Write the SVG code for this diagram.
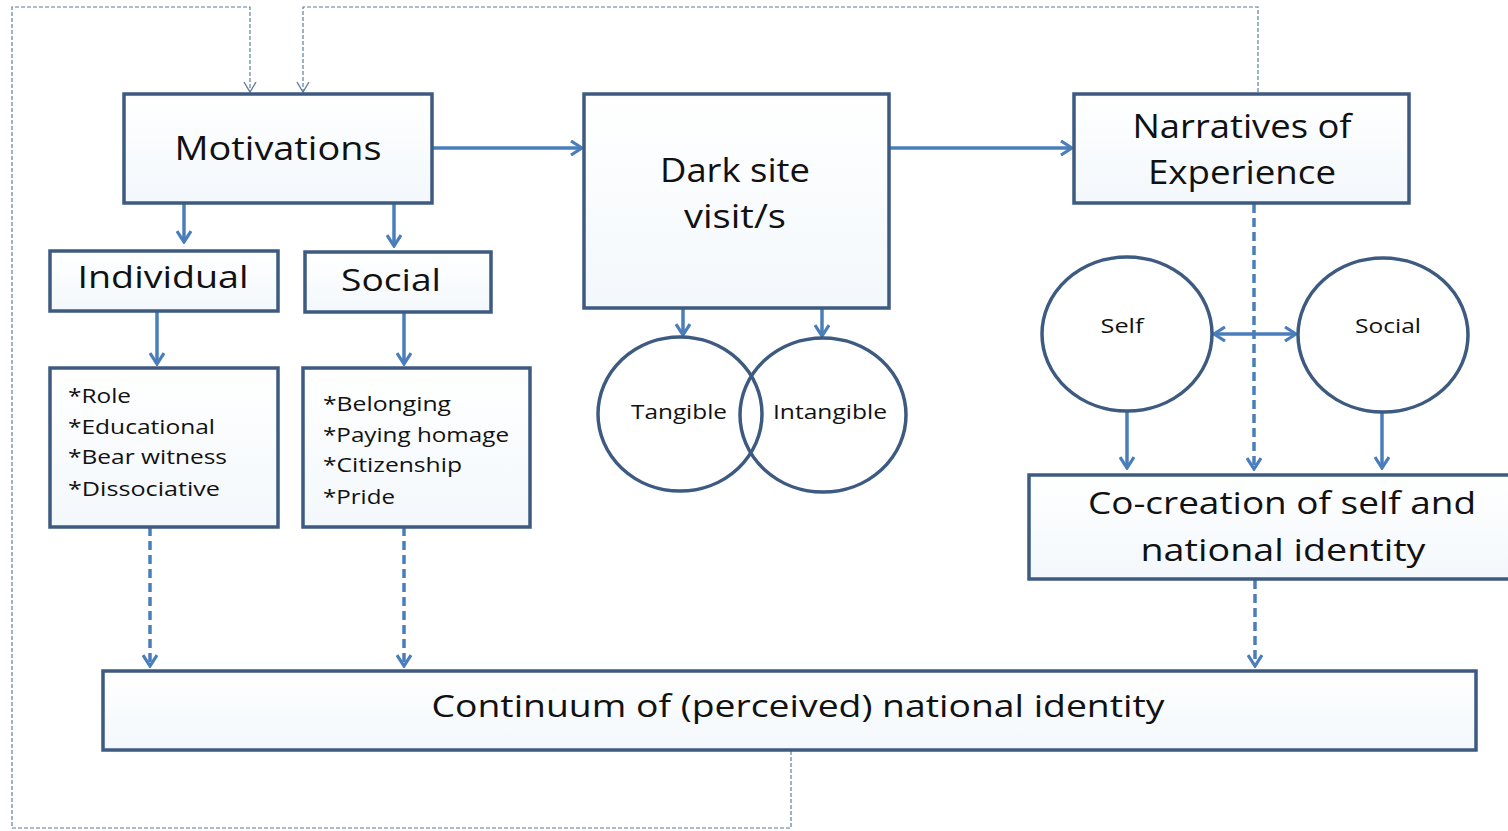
<svg xmlns="http://www.w3.org/2000/svg" width="1508" height="831" viewBox="0 0 1508 831">
<style>
.box{fill:url(#bg);stroke:#3d5a80;stroke-width:3.5}
.circ{fill:none;stroke:#3d5a80;stroke-width:3.5}
.t{font-family:"Open Sans","Liberation Sans",sans-serif;fill:#111;text-anchor:middle}
.l{font-family:"Open Sans","Liberation Sans",sans-serif;fill:#111;font-size:20px}
.a{fill:none;stroke:#4a7ebb;stroke-width:3.5;marker-end:url(#ah)}
.d{fill:none;stroke:#4a7ebb;stroke-width:3.5;stroke-dasharray:9 5;marker-end:url(#ah)}
.fb{fill:none;stroke:#5f7d9e;stroke-width:1.2;stroke-dasharray:4 2}
</style>
<defs>
<linearGradient id="bg" x1="0" y1="0" x2="0" y2="1">
<stop offset="0" stop-color="#ffffff"/><stop offset="1" stop-color="#f3f8fc"/>
</linearGradient>
<marker id="ah" viewBox="0 0 14 16" refX="12.5" refY="8" markerWidth="14" markerHeight="16" markerUnits="userSpaceOnUse" orient="auto-start-reverse">
<path d="M1.5,1 L12.5,8 L1.5,15" fill="none" stroke="#4a7ebb" stroke-width="3.2"/>
</marker>
<marker id="oh" viewBox="0 0 12 14" refX="11" refY="7" markerWidth="12" markerHeight="14" markerUnits="userSpaceOnUse" orient="auto">
<path d="M1,1 L11,7 L1,13" fill="none" stroke="#5f7d9e" stroke-width="1.4"/>
</marker>
</defs>
<rect width="1508" height="831" fill="#fff"/>
<g id="connectors">
<path class="fb" d="M791,751 V828 H12 V7 H250 V92" marker-end="url(#oh)"/>
<path class="fb" d="M1258,92 V7 H303 V92" marker-end="url(#oh)"/>
<path class="a" d="M432,148 H582"/>
<path class="a" d="M889,148 H1072"/>
<path class="a" d="M184,203 V242"/>
<path class="a" d="M394,203 V246"/>
<path class="a" d="M157,311 V364"/>
<path class="a" d="M404,312 V364"/>
<path class="d" d="M150,527 V666"/>
<path class="d" d="M404,527 V666"/>
<path class="a" d="M683,308 V335"/>
<path class="a" d="M822,308 V336"/>
<path class="d" d="M1254,204 V469"/>
<path class="a" d="M1214,334 H1296" marker-start="url(#ah)"/>
<path class="a" d="M1127,411 V468"/>
<path class="a" d="M1382,412 V468"/>
<path class="d" d="M1255,580 V666"/>
</g>
<g id="motivations"><rect class="box" x="124" y="94" width="308" height="109"/><text class="t" x="278" y="160" font-size="33" textLength="207" lengthAdjust="spacingAndGlyphs">Motivations</text></g>
<g id="darksite"><rect class="box" x="584" y="94" width="305" height="214"/><text class="t" x="735" y="182" font-size="33" textLength="150" lengthAdjust="spacingAndGlyphs">Dark site</text><text class="t" x="735" y="228" font-size="33" textLength="102" lengthAdjust="spacingAndGlyphs">visit/s</text></g>
<g id="narratives"><rect class="box" x="1074" y="94" width="335" height="109"/><text class="t" x="1242" y="138" font-size="33" textLength="219" lengthAdjust="spacingAndGlyphs">Narratives of</text><text class="t" x="1242" y="184" font-size="33" textLength="188" lengthAdjust="spacingAndGlyphs">Experience</text></g>
<g id="individual"><rect class="box" x="50" y="251" width="228" height="60"/><text class="t" x="163" y="288" font-size="31" textLength="171" lengthAdjust="spacingAndGlyphs">Individual</text></g>
<g id="social"><rect class="box" x="305" y="252" width="186" height="60"/><text class="t" x="391" y="291" font-size="31" textLength="100" lengthAdjust="spacingAndGlyphs">Social</text></g>
<g id="indlist"><rect class="box" x="50" y="368" width="228" height="159"/>
<text class="l" x="68" y="403" textLength="63" lengthAdjust="spacingAndGlyphs">*Role</text><text class="l" x="68" y="434" textLength="147" lengthAdjust="spacingAndGlyphs">*Educational</text><text class="l" x="68" y="464" textLength="159" lengthAdjust="spacingAndGlyphs">*Bear witness</text><text class="l" x="68" y="496" textLength="152" lengthAdjust="spacingAndGlyphs">*Dissociative</text></g>
<g id="soclist"><rect class="box" x="303" y="368" width="227" height="159"/>
<text class="l" x="323" y="411" textLength="128" lengthAdjust="spacingAndGlyphs">*Belonging</text><text class="l" x="323" y="442" textLength="186" lengthAdjust="spacingAndGlyphs">*Paying homage</text><text class="l" x="323" y="472" textLength="139" lengthAdjust="spacingAndGlyphs">*Citizenship</text><text class="l" x="323" y="504" textLength="72" lengthAdjust="spacingAndGlyphs">*Pride</text></g>
<g id="tangible"><ellipse class="circ" cx="680" cy="414" rx="82" ry="77"/><text class="t" x="679" y="419" font-size="20" textLength="96" lengthAdjust="spacingAndGlyphs">Tangible</text></g>
<g id="intangible"><ellipse class="circ" cx="823" cy="415" rx="83" ry="77"/><text class="t" x="830" y="419" font-size="20" textLength="114" lengthAdjust="spacingAndGlyphs">Intangible</text></g>
<g id="self"><ellipse class="circ" cx="1127" cy="334" rx="85" ry="77"/><text class="t" x="1122" y="333" font-size="20" textLength="43" lengthAdjust="spacingAndGlyphs">Self</text></g>
<g id="socialc"><ellipse class="circ" cx="1383" cy="335" rx="85" ry="77"/><text class="t" x="1388" y="333" font-size="20" textLength="66" lengthAdjust="spacingAndGlyphs">Social</text></g>
<g id="cocreation"><rect class="box" x="1029" y="475" width="482" height="104"/><text class="t" x="1282" y="514" font-size="31" textLength="388" lengthAdjust="spacingAndGlyphs">Co-creation of self and</text><text class="t" x="1283" y="561" font-size="31" textLength="285" lengthAdjust="spacingAndGlyphs">national identity</text></g>
<g id="continuum"><rect class="box" x="103" y="671" width="1373" height="79"/><text class="t" x="798" y="717" font-size="31" textLength="733" lengthAdjust="spacingAndGlyphs">Continuum of (perceived) national identity</text></g>
</svg>
